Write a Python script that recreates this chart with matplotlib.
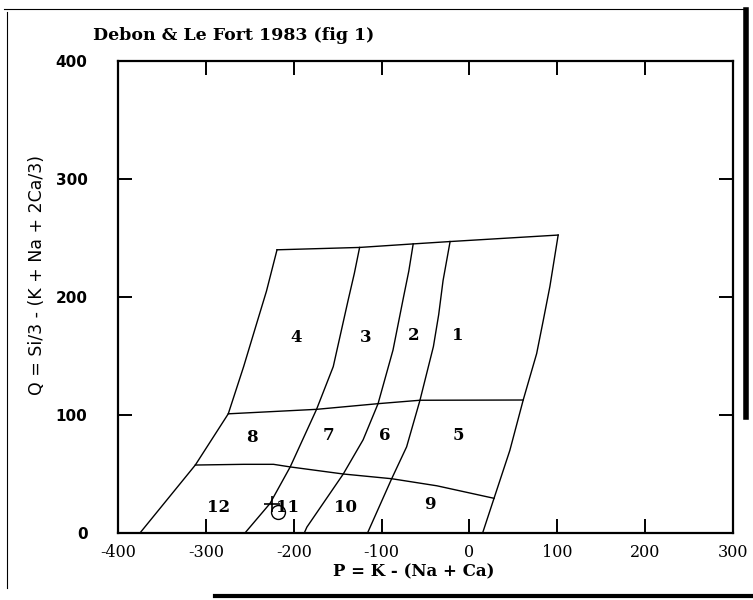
import matplotlib.pyplot as plt
from matplotlib.lines import Line2D

plt.rcParams["axes.unicode_minus"] = False

# P-Q field boundaries (Debon & Le Fort 1983)
top_p = [-219, -125, -64, -22, 101]
top_q = [240, 242, 245, 247, 252.5]

left_p = [-219, -231, -242, -257, -274.5, -312, -375]
left_q = [240, 205, 178, 141, 101, 57.6, 0]

b43_p = [-125, -131, -138, -155, -174, -204, -227, -255.5]
b43_q = [242, 220, 197.5, 141, 104.8, 56, 25, 0]

b32_p = [-64, -69, -75, -87, -104, -121, -143.6, -185, -188]
b32_q = [245, 222, 200, 155, 109.6, 79, 50, 5, 0]

b21_p = [-22, -30, -35, -41, -56.3, -71.5, -88.5, -116]
b21_q = [247, 214, 185, 158, 112.5, 73, 46, 0]

right_p = [101, 91.6, 84, 76.5, 61.2, 46, 28, 15]
right_q = [252.5, 209, 180, 152, 112.7, 70, 29.4, 0]

mid_p = [-274.5, -174, -104, -56.3, 61.2]
mid_q = [101, 104.8, 109.6, 112.5, 112.7]

low_p = [-312, -257, -223, -204, -143.6, -88.5, -37, 28]
low_q = [57.6, 58.2, 58.2, 56, 50, 46, 40, 29.4]

boundaries = [
    (top_p, top_q),
    (left_p, left_q),
    (b43_p, b43_q),
    (b32_p, b32_q),
    (b21_p, b21_q),
    (right_p, right_q),
    (mid_p, mid_q),
    (low_p, low_q),
]

# field numbers and where they sit
field_names = ["1", "2", "3", "4", "5", "6", "7", "8", "9", "10", "11", "12"]
field_p = [-13, -64, -118, -197, -13, -96, -160, -247, -45, -141, -207, -286]
field_q = [167, 167, 166, 166, 83, 83, 83, 81, 24, 22, 22, 22]

# the single sample plotted
sample_p = [-225]
sample_q = [25]
sample2_p = [-218]
sample2_q = [18]

xticks = [-400, -300, -200, -100, 0, 100, 200, 300]
yticks = [0, 100, 200, 300, 400]

fig = plt.figure(figsize=(7.53, 6.0), dpi=100)
ax = fig.add_axes([118 / 753, 67 / 600, 615 / 753, 472 / 600])

for p, q in boundaries:
    ax.plot(p, q, color="black", lw=1.0)

for name, p, q in zip(field_names, field_p, field_q):
    ax.text(p, q, name, ha="center", va="center", fontsize=12,
            family="DejaVu Serif", fontweight="bold")

ax.plot(sample_p, sample_q, marker="+", ms=11, mew=1.2, color="black", ls="none")
ax.plot(sample2_p, sample2_q, marker="o", ms=10, mfc="none", mew=1.0,
        color="black", ls="none")

ax.set_xlim(-400, 300)
ax.set_ylim(0, 400)
ax.set_xticks(xticks)
ax.set_yticks(yticks)
ax.tick_params(direction="in", length=10, width=1.4, top=True, right=True)
ax.tick_params(axis="x", pad=8)
ax.tick_params(axis="y", pad=22)
for lab in ax.get_xticklabels():
    lab.set_family("DejaVu Serif")
    lab.set_fontsize(11.5)
for lab in ax.get_yticklabels():
    lab.set_family("DejaVu Sans")
    lab.set_fontweight("bold")
    lab.set_fontsize(11)
for s in ax.spines.values():
    s.set_linewidth(1.6)

ax.set_xlabel("P = K - (Na + Ca)", family="DejaVu Serif", fontweight="bold",
              fontsize=12, va="center")
ax.xaxis.set_label_coords(0.481, -0.083)
ax.set_ylabel("Q = Si/3 - (K + Na + 2Ca/3)", family="DejaVu Sans",
              fontsize=12.5, va="center")
ax.yaxis.set_label_coords(-0.132, 0.547)

fig.text(93 / 753, 1 - 35 / 600, "Debon & Le Fort 1983 (fig 1)", ha="left",
         va="center", family="DejaVu Serif", fontweight="bold", fontsize=12.5)

# scanned page border
fig.add_artist(Line2D([0.009, 0.009], [0.02, 0.98], color="black", lw=0.8))
fig.add_artist(Line2D([0.005, 0.99], [0.985, 0.985], color="black", lw=0.8))
fig.add_artist(Line2D([0.991, 0.991], [0.305, 0.983], color="black", lw=4))
fig.add_artist(Line2D([0.285, 1.0], [0.006, 0.006], color="black", lw=3))

fig.savefig("out.png", dpi=100)
